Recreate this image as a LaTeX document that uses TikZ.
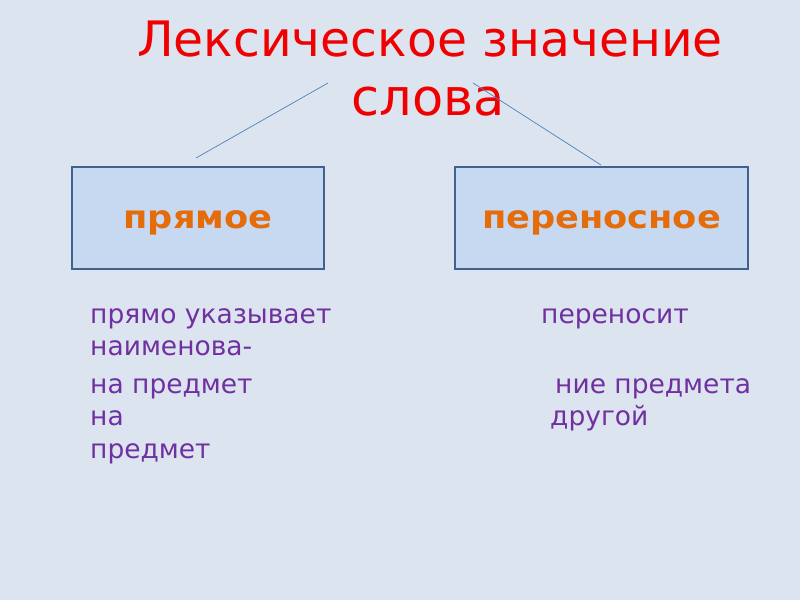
\documentclass[tikz,border=0pt]{standalone}
\usepackage{fontspec}
\setmainfont{DejaVu Sans}
\definecolor{bg}{HTML}{DCE4F0}
\definecolor{boxfill}{HTML}{C6D9F1}
\definecolor{boxline}{HTML}{41618F}
\definecolor{ttl}{HTML}{F00000}
\definecolor{org}{HTML}{E46C0A}
\definecolor{purp}{HTML}{7030A0}
\definecolor{ln}{HTML}{4F81BD}
\newcommand{\wide}[1]{\scalebox{1.1}[1]{#1}}
\begin{document}
\begin{tikzpicture}[x=1pt,y=-1pt,
  kind/.style={draw=boxline,line width=1.8pt,fill=boxfill,inner sep=0pt,
    text height=27pt,text depth=7pt,
    font=\fontsize{32}{38}\selectfont\bfseries,text=org},
  body/.style={anchor=base west,inner sep=0pt,text=purp,font=\fontsize{26.5}{30}\selectfont},
  link/.style={draw=ln,line width=0.7pt}]
\fill[bg] (0,0) rectangle (800,600);
\useasboundingbox (0,0) rectangle (800,600);
\node[anchor=base,inner sep=0pt,text=ttl,font=\fontsize{48.8}{56}\selectfont] (t1) at (430,56) {Лексическое значение};
\node[anchor=base,inner sep=0pt,text=ttl,font=\fontsize{51}{60}\selectfont] (t2) at (428,115) {слова};
\coordinate (a1) at (328,83);
\coordinate (a2) at (196,158);
\coordinate (b1) at (473,83);
\coordinate (b2) at (601,165);
\draw[link] (a1) -- (a2);
\draw[link] (b1) -- (b2);
\node[kind,minimum width=252pt,minimum height=102pt] (p) at (198,218) {\wide{прямое}};
\node[kind,minimum width=293pt,minimum height=102pt] (q) at (601.5,218) {\wide{переносное}};
\node[body] (l1) at (90,323) {прямо указывает};
\node[body] (l2) at (90,355) {наименова-};
\node[body] (l3) at (90,393) {на предмет};
\node[body] (l4) at (90,425) {на};
\node[body] (l5) at (90,458) {предмет};
\node[body] (r1) at (541,323) {переносит};
\node[body] (r2) at (555,393) {ние предмета};
\node[body] (r3) at (550,425) {другой};
\end{tikzpicture}
\end{document}
